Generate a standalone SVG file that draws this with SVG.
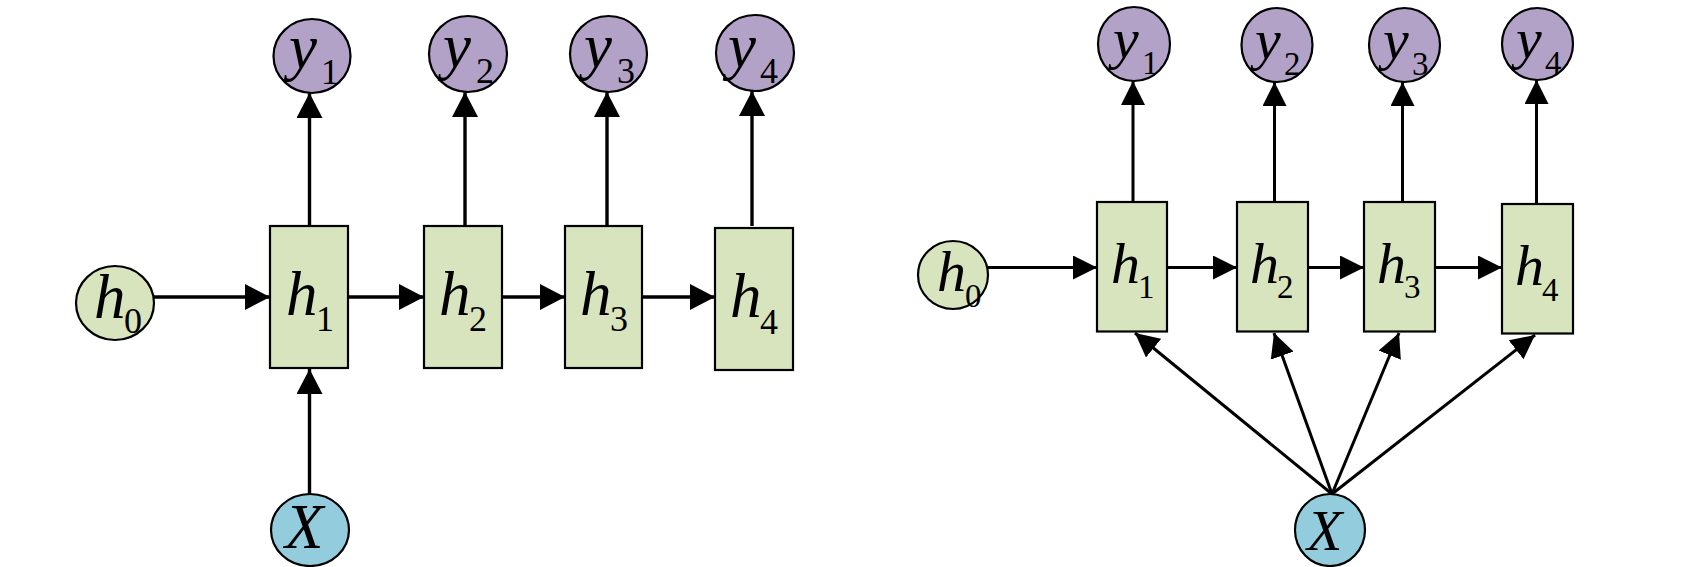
<svg xmlns="http://www.w3.org/2000/svg" width="1701" height="567" viewBox="0 0 1701 567">
<style>
.bg{fill:#ffffff}
.hbox{fill:#d7e4bd;stroke:#000;stroke-width:2.2}
.h0{fill:#d7e4bd;stroke:#000;stroke-width:2.2}
.y{fill:#b3a2c7;stroke:#000;stroke-width:2.2}
.x{fill:#93cddd;stroke:#000;stroke-width:2.2}
.m{font-family:"Liberation Serif","Times New Roman",serif;font-style:italic;fill:#000}
.s{font-family:"Liberation Serif","Times New Roman",serif;fill:#000}
.L{font-size:63px}
.Ls{font-size:36px}
.R{font-size:58px}
.Rs{font-size:33px}
.c{stroke:#000;stroke-width:3.4;fill:none}
.cr{stroke:#000;stroke-width:3;fill:none}
</style>
<defs>
<marker id="ah" markerUnits="userSpaceOnUse" viewBox="0 0 25 26" refX="25" refY="13" markerWidth="25" markerHeight="26" orient="auto">
<path d="M0,0 L25,13 L0,26 z" fill="#000"/>
</marker>
<marker id="ahs" markerUnits="userSpaceOnUse" viewBox="0 0 24 24" refX="24" refY="12" markerWidth="24" markerHeight="24" orient="auto">
<path d="M0,0 L24,12 L0,24 z" fill="#000"/>
</marker>
</defs>
<rect class="bg" x="0" y="0" width="1701" height="567"/>

<g id="connectors">
<line class="c" x1="154" y1="297" x2="270" y2="297" marker-end="url(#ah)"/>
<line class="c" x1="348" y1="297" x2="424" y2="297" marker-end="url(#ah)"/>
<line class="c" x1="502" y1="297" x2="565" y2="297" marker-end="url(#ah)"/>
<line class="c" x1="642" y1="297" x2="715" y2="297" marker-end="url(#ah)"/>
<line class="c" x1="309.5" y1="226" x2="309.5" y2="93" marker-end="url(#ah)"/>
<line class="c" x1="465" y1="226" x2="465" y2="92" marker-end="url(#ah)"/>
<line class="c" x1="607" y1="226" x2="607" y2="92" marker-end="url(#ah)"/>
<line class="c" x1="752" y1="226" x2="752" y2="91" marker-end="url(#ah)"/>
<line class="c" x1="309.5" y1="494" x2="309.5" y2="369" marker-end="url(#ah)"/>
<line class="cr" x1="988" y1="267.5" x2="1097" y2="267.5" marker-end="url(#ahs)"/>
<line class="cr" x1="1167" y1="267.5" x2="1237" y2="267.5" marker-end="url(#ahs)"/>
<line class="cr" x1="1308" y1="267.5" x2="1364" y2="267.5" marker-end="url(#ahs)"/>
<line class="cr" x1="1435" y1="267.5" x2="1502" y2="267.5" marker-end="url(#ahs)"/>
<line class="cr" x1="1133" y1="202" x2="1133" y2="81" marker-end="url(#ahs)"/>
<line class="cr" x1="1274.5" y1="202" x2="1274.5" y2="82" marker-end="url(#ahs)"/>
<line class="cr" x1="1402.5" y1="202" x2="1402.5" y2="82" marker-end="url(#ahs)"/>
<line class="cr" x1="1536.5" y1="204" x2="1536.5" y2="80" marker-end="url(#ahs)"/>
<line class="cr" x1="1332" y1="494" x2="1135" y2="333" marker-end="url(#ahs)"/>
<line class="cr" x1="1332" y1="494" x2="1274" y2="333" marker-end="url(#ahs)"/>
<line class="cr" x1="1332" y1="494" x2="1399" y2="333" marker-end="url(#ahs)"/>
<line class="cr" x1="1332" y1="494" x2="1535" y2="335" marker-end="url(#ahs)"/>
</g>

<g id="L_h0"><ellipse class="h0" cx="115" cy="303" rx="39" ry="37"/><text class="m L" x="94" y="318">h</text><text class="s Ls" x="124" y="333">0</text></g>
<g id="L_h1"><rect class="hbox" x="270" y="226" width="78" height="142"/><text class="m L" x="286" y="315">h</text><text class="s Ls" x="316" y="331">1</text></g>
<g id="L_h2"><rect class="hbox" x="424" y="226" width="78" height="142"/><text class="m L" x="439" y="315">h</text><text class="s Ls" x="469" y="331">2</text></g>
<g id="L_h3"><rect class="hbox" x="565" y="226" width="77" height="142"/><text class="m L" x="580" y="315">h</text><text class="s Ls" x="610" y="331">3</text></g>
<g id="L_h4"><rect class="hbox" x="715" y="228" width="78" height="142"/><text class="m L" x="730" y="317">h</text><text class="s Ls" x="760" y="334">4</text></g>
<g id="L_y1"><ellipse class="y" cx="312" cy="56" rx="38.5" ry="37"/><text class="m L" x="289" y="68">y</text><text class="s Ls" x="321" y="84">1</text></g>
<g id="L_y2"><ellipse class="y" cx="468" cy="54" rx="39" ry="38"/><text class="m L" x="443" y="67">y</text><text class="s Ls" x="476" y="83">2</text></g>
<g id="L_y3"><ellipse class="y" cx="608.5" cy="54" rx="38.5" ry="38"/><text class="m L" x="584" y="67">y</text><text class="s Ls" x="617" y="83">3</text></g>
<g id="L_y4"><ellipse class="y" cx="755" cy="53" rx="39" ry="38"/><text class="m L" x="728" y="67">y</text><text class="s Ls" x="760" y="83">4</text></g>
<g id="L_X"><ellipse class="x" cx="310" cy="530" rx="39" ry="36"/><text class="m L" x="285" y="548">X</text></g>

<g id="R_h0"><ellipse class="h0" cx="953" cy="275" rx="35" ry="34"/><text class="m R" x="937" y="291">h</text><text class="s Rs" x="965" y="307">0</text></g>
<g id="R_h1"><rect class="hbox" x="1097" y="202" width="70" height="129.5"/><text class="m R" x="1111" y="283">h</text><text class="s Rs" x="1138" y="298">1</text></g>
<g id="R_h2"><rect class="hbox" x="1237" y="202" width="71" height="129.5"/><text class="m R" x="1250" y="283">h</text><text class="s Rs" x="1277" y="298">2</text></g>
<g id="R_h3"><rect class="hbox" x="1364" y="202" width="71" height="129.5"/><text class="m R" x="1377" y="283">h</text><text class="s Rs" x="1404" y="298">3</text></g>
<g id="R_h4"><rect class="hbox" x="1502" y="204" width="71" height="129.5"/><text class="m R" x="1515" y="285">h</text><text class="s Rs" x="1542" y="301">4</text></g>
<g id="R_y1"><ellipse class="y" cx="1134" cy="44" rx="36" ry="37"/><text class="m R" x="1113" y="58">y</text><text class="s Rs" x="1142" y="74">1</text></g>
<g id="R_y2"><ellipse class="y" cx="1277" cy="45" rx="35.5" ry="37"/><text class="m R" x="1255" y="59">y</text><text class="s Rs" x="1284" y="75">2</text></g>
<g id="R_y3"><ellipse class="y" cx="1404.5" cy="45" rx="35.5" ry="37"/><text class="m R" x="1383" y="59">y</text><text class="s Rs" x="1412" y="75">3</text></g>
<g id="R_y4"><ellipse class="y" cx="1537.5" cy="44" rx="35.5" ry="36"/><text class="m R" x="1516" y="58">y</text><text class="s Rs" x="1545" y="74">4</text></g>
<g id="R_X"><ellipse class="x" cx="1330" cy="530" rx="35" ry="36"/><text class="m R" x="1307" y="550">X</text></g>
</svg>
